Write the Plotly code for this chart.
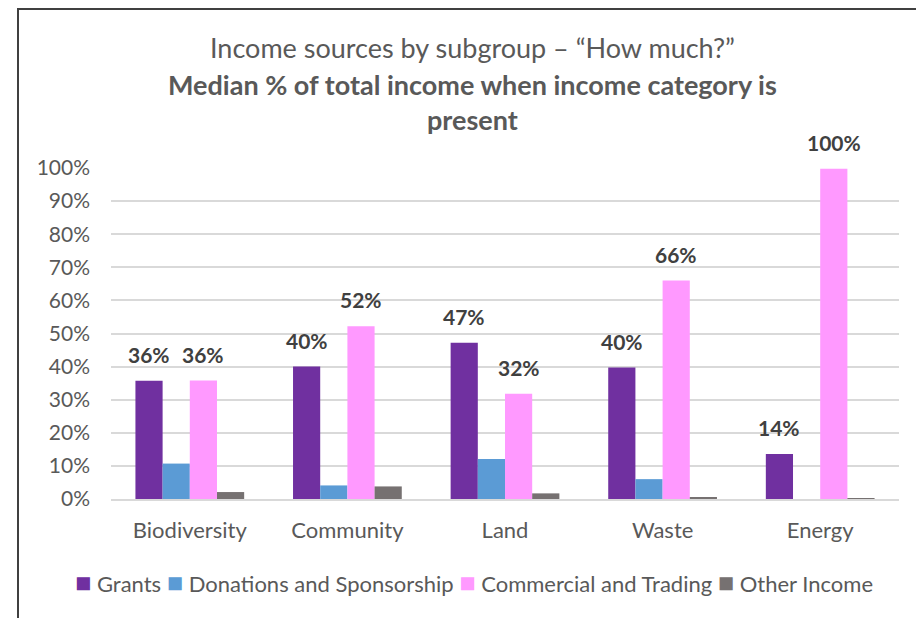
import plotly.graph_objects as go

# Subgroups and median share of total income (%) per income category
subgroups = ["Biodiversity", "Community", "Land", "Waste", "Energy"]
grants = [35.7, 40.0, 47.2, 39.7, 13.6]
donations = [10.7, 4.1, 12.1, 6.0, 0.0]
commercial = [35.8, 52.2, 31.8, 66.0, 99.8]
other_income = [2.1, 3.8, 1.7, 0.5, 0.2]

series_names = ["Grants", "Donations and Sponsorship", "Commercial and Trading", "Other Income"]
series_colors = ["#7030A0", "#5B9BD5", "#FF99FF", "#767171"]
series_values = [grants, donations, commercial, other_income]
labelled = [True, False, True, False]

y_ticks = list(range(0, 101, 10))

FONT = "Lato"
TXT = "#595959"

W, H = 916, 618
ML, MR, MT, MB = 111, 17, 168, 119
PW, PH = W - ML - MR, H - MT - MB
BARGAP = 0.31

def px_x(x):
    return (x - ML) / PW

def px_y(y):
    return (H - MB - y) / PH

fig = go.Figure()
for name, color, vals in zip(series_names, series_colors, series_values):
    fig.add_trace(go.Bar(
        x=subgroups, y=vals, name=name,
        marker=dict(color=color, line=dict(width=0)),
        hoverinfo="x+y+name", showlegend=False,
    ))

# value labels above the Grants and Commercial bars
n_series = len(series_names)
cat_w = PW / len(subgroups)
bar_w = cat_w * (1 - BARGAP) / n_series
annotations = []
for i, (vals, show) in enumerate(zip(series_values, labelled)):
    if not show:
        continue
    offset = (i - (n_series - 1) / 2) * bar_w
    for cat, v in zip(subgroups, vals):
        annotations.append(dict(
            x=cat, y=v, xref="x", yref="y", xshift=offset, yshift=12,
            yanchor="bottom", showarrow=False,
            text=f"<b>{v:.0f}%</b>",
            font=dict(family=FONT, size=21, color="#404040"),
        ))

# chart title
annotations.append(dict(
    x=px_x(472), y=px_y(47), xref="paper", yref="paper", showarrow=False,
    text="Income sources by subgroup – “How much?”",
    font=dict(family=FONT, size=27, color=TXT), yanchor="middle",
))
annotations.append(dict(
    x=px_x(472), y=px_y(102), xref="paper", yref="paper", showarrow=False,
    text="<b>Median % of total income when income category is<br>present</b>",
    font=dict(family=FONT, size=27, color=TXT), yanchor="middle",
))

# compact legend row: coloured squares followed by series names
legend_text = " ".join(
    f'<span style="color:{c};font-size:27px">■</span> {n}'
    for n, c in zip(series_names, series_colors)
)
annotations.append(dict(
    x=px_x(474), y=px_y(581), xref="paper", yref="paper", showarrow=False,
    text=legend_text, xanchor="center", yanchor="middle",
    font=dict(family=FONT, size=22, color=TXT),
))

fig.update_layout(
    width=W, height=H,
    margin=dict(l=ML, r=MR, t=MT, b=MB, pad=0),
    paper_bgcolor="white", plot_bgcolor="white",
    barmode="group", bargap=BARGAP, bargroupgap=0,
    font=dict(family=FONT, size=22, color=TXT),
    showlegend=False,
    annotations=annotations,
    shapes=[dict(
        type="rect", xref="paper", yref="paper",
        x0=px_x(18), x1=px_x(930), y0=px_y(640), y1=px_y(9),
        line=dict(color="#404040", width=2), fillcolor="rgba(0,0,0,0)", layer="below",
    )],
)

fig.update_xaxes(
    showgrid=False, showline=True, linecolor="#D9D9D9", linewidth=1.5,
    ticks="", ticklabelstandoff=11,
    tickfont=dict(family=FONT, size=22, color=TXT),
)
fig.update_yaxes(
    range=[0, 100], tickvals=y_ticks, ticktext=[f"{t}%" for t in y_ticks],
    showgrid=True, gridcolor="#D9D9D9", gridwidth=1.5, zeroline=False,
    showline=False, ticks="", ticklabelstandoff=20,
    tickfont=dict(family=FONT, size=21, color=TXT),
)

fig.write_html("out.html")
